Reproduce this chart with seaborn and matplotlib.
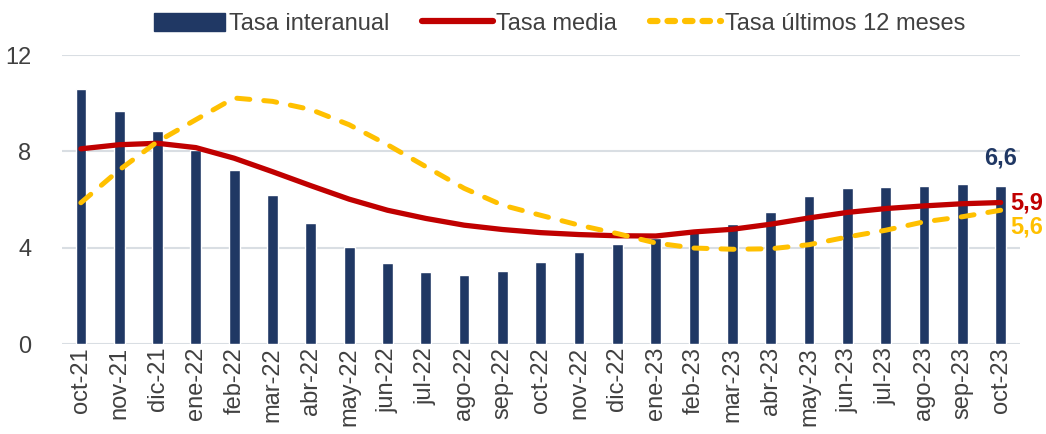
import matplotlib
matplotlib.use("Agg")
import matplotlib.pyplot as plt
import seaborn as sns
import pandas as pd
from matplotlib.patches import Patch
from matplotlib.lines import Line2D

months = ["oct-21", "nov-21", "dic-21", "ene-22", "feb-22", "mar-22", "abr-22",
          "may-22", "jun-22", "jul-22", "ago-22", "sep-22", "oct-22", "nov-22",
          "dic-22", "ene-23", "feb-23", "mar-23", "abr-23", "may-23", "jun-23",
          "jul-23", "ago-23", "sep-23", "oct-23"]
tasa_interanual = [10.6, 9.68, 8.86, 8.08, 7.25, 6.2, 5.05, 4.02, 3.37, 2.99, 2.88,
                   3.05, 3.41, 3.82, 4.16, 4.4, 4.72, 4.98, 5.48, 6.16, 6.5, 6.52,
                   6.58, 6.65, 6.56]
tasa_media = [8.11, 8.28, 8.34, 8.16, 7.72, 7.16, 6.58, 6.02, 5.56, 5.22, 4.94,
              4.76, 4.63, 4.55, 4.5, 4.49, 4.66, 4.77, 4.98, 5.24, 5.47, 5.63,
              5.74, 5.83, 5.88]
tasa_12m = [5.87, 7.23, 8.41, 9.32, 10.22, 10.08, 9.74, 9.11, 8.28, 7.37, 6.47,
            5.77, 5.35, 4.94, 4.59, 4.2, 3.99, 3.94, 3.96, 4.13, 4.45, 4.73,
            5.08, 5.29, 5.56]
labels_last = ["6,6", "5,9", "5,6"]
y_ticks = [0, 4, 8, 12]
legend_labels = ["Tasa interanual", "Tasa media", "Tasa últimos 12 meses"]

NAVY = "#203864"
RED = "#C00000"
YELLOW = "#FFC000"
TXT = "#404040"
GRID = "#D9DEE3"

sns.set_theme(style="white")
plt.rcParams["font.family"] = ["Liberation Sans", "DejaVu Sans"]

df = pd.DataFrame({"mes": months, "interanual": tasa_interanual,
                   "media": tasa_media, "m12": tasa_12m})

fig = plt.figure(figsize=(10.46, 4.34), dpi=100)
ax = fig.add_axes([0.059, 0.207, 0.916, 0.666])

sns.barplot(data=df, x="mes", y="interanual", color=NAVY, width=0.28,
            saturation=1, ax=ax, zorder=2)
sns.lineplot(data=df, x="mes", y="media", color=RED, linewidth=3.8, sort=False,
             ax=ax, zorder=3, solid_capstyle="round", solid_joinstyle="round")
sns.lineplot(data=df, x="mes", y="m12", color=YELLOW, linewidth=3.6, sort=False,
             ax=ax, zorder=4, dashes=False)
ln = ax.get_lines()[-1]
ln.set_dashes((2.6, 2.8))
ln.set_dash_capstyle("round")

ax.set_ylim(0, 12)
ax.set_xlim(-0.5, len(months) - 0.5)
ax.set_yticks(y_ticks)
ax.set_yticklabels([str(v) for v in y_ticks], fontsize=17, color=TXT)
ax.set_xticks(range(len(months)))
ax.set_xticklabels(months, rotation=90, fontsize=17, color=TXT)
ax.tick_params(axis="x", length=0, pad=2)
ax.tick_params(axis="y", length=0, pad=22)
ax.set_xlabel("")
ax.set_ylabel("")
for s in ax.spines.values():
    s.set_visible(False)
ax.yaxis.grid(True, color=GRID, linewidth=1.5, zorder=0)
ax.set_axisbelow(True)

n = len(months) - 1
ax.annotate(labels_last[0], (n, tasa_interanual[-1]), xytext=(0, 12),
            textcoords="offset points", ha="center", va="bottom",
            fontsize=17, fontweight="bold", color=NAVY)
ax.annotate(labels_last[1], (n, tasa_media[-1]), xytext=(7, 0),
            textcoords="offset points", ha="left", va="center",
            fontsize=17, fontweight="bold", color=RED, annotation_clip=False)
ax.annotate(labels_last[2], (n, tasa_12m[-1]), xytext=(7, -12),
            textcoords="offset points", ha="left", va="center",
            fontsize=17, fontweight="bold", color=YELLOW, annotation_clip=False)

handles = [Patch(facecolor=NAVY, edgecolor=NAVY),
           Line2D([0], [0], color=RED, linewidth=4.5, solid_capstyle="round"),
           Line2D([0], [0], color=YELLOW, linewidth=4.5, dashes=(1.2, 1.6),
                  dash_capstyle="round")]
leg = fig.legend(handles, legend_labels, loc="center", bbox_to_anchor=(0.535, 0.945),
                 ncol=3, frameon=False, fontsize=17, handlelength=3.0,
                 handleheight=0.8, handletextpad=0.15, columnspacing=1.4)
for t in leg.get_texts():
    t.set_color(TXT)

fig.savefig("out.png", dpi=100)
